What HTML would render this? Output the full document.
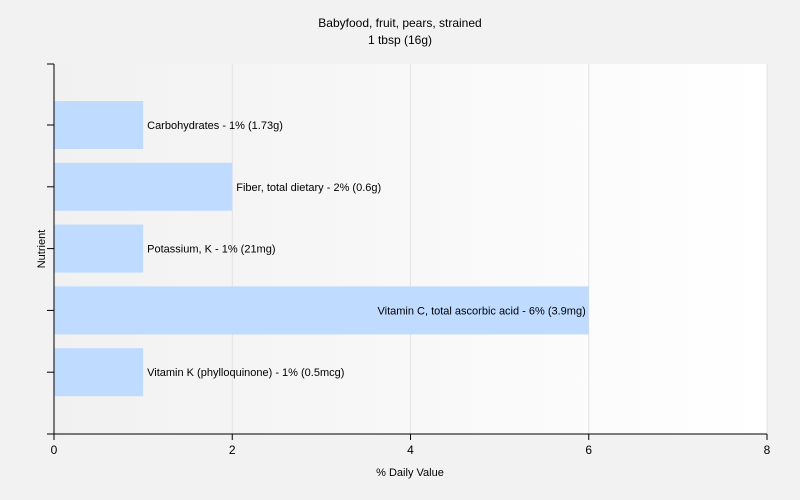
<!DOCTYPE html>
<html><head><style>body{margin:0;background:#f2f2f2}svg{display:block;font-family:"Liberation Sans",sans-serif}</style></head>
<body>
<svg width="800" height="500">
<defs><linearGradient id="g" x1="0" x2="1"><stop offset="0" stop-color="#f1f1f1"/><stop offset="1" stop-color="#ffffff"/></linearGradient></defs>
<rect width="800" height="500" fill="#f2f2f2"/>
<text x="400" y="27" text-anchor="middle" font-size="12">Babyfood, fruit, pears, strained</text>
<text x="400" y="44" text-anchor="middle" font-size="12">1 tbsp (16g)</text>
<rect x="54" y="64" width="713" height="370" fill="url(#g)"/>
<g id="grid"></g><g id="bars"></g><g id="axes"></g>
<text x="410" y="476" text-anchor="middle" font-size="11">% Daily Value</text>
<text transform="translate(45,249) rotate(-90)" text-anchor="middle" font-size="11">Nutrient</text>
</svg>
<script>
const categories=["Carbohydrates - 1% (1.73g)","Fiber, total dietary - 2% (0.6g)","Potassium, K - 1% (21mg)","Vitamin C, total ascorbic acid - 6% (3.9mg)","Vitamin K (phylloquinone) - 1% (0.5mcg)"];
const values=[1,2,1,6,1];
const ticks=[0,2,4,6,8];
const NS="http://www.w3.org/2000/svg";
const x0=54,x1=767,y0=64,y1=434;
const xs=v=>x0+(x1-x0)*v/8;
const band=(y1-y0)/categories.length*0.835;
const yc=i=>125+i*61.8;
function mk(t,a,p){const e=document.createElementNS(NS,t);for(const k in a)e.setAttribute(k,a[k]);p.appendChild(e);return e;}
const G=document.getElementById('grid'),B=document.getElementById('bars'),A=document.getElementById('axes');
ticks.forEach(t=>{if(t>0){const l=mk('line',{x1:xs(t),x2:xs(t),y1:y0,y2:y1,stroke:'#e2e2e2'},G);

}
const tk=mk('line',{x1:xs(t),x2:xs(t),y1:y1,y2:y1+6,stroke:'#000'},A);


const tx=mk('text',{x:xs(t),y:y1+20,'text-anchor':'middle','font-size':12},A);tx.textContent=t;

});
categories.forEach((c,i)=>{const h=48;const r=mk('rect',{x:x0,y:yc(i)-h/2,width:xs(values[i])-x0,height:h,fill:'#bfdbff'},B);


const inside=values[i]>=5;
const t=mk('text',{x:inside?xs(values[i])-3:xs(values[i])+4,y:yc(i)+4,'font-size':11,'text-anchor':inside?'end':'start'},B);t.textContent=c;


const tk=mk('line',{x1:x0-7,x2:x0,y1:yc(i),y2:yc(i),stroke:'#000'},A);

});
[[x0,y0,x0,y1],[x0,y1,x1,y1],[x0-7,y0,x0,y0],[x0-7,y1,x0,y1]].forEach(a=>{const l=mk('line',{x1:a[0],y1:a[1],x2:a[2],y2:a[3],stroke:'#000'},A);

});
</script>
</body></html>
